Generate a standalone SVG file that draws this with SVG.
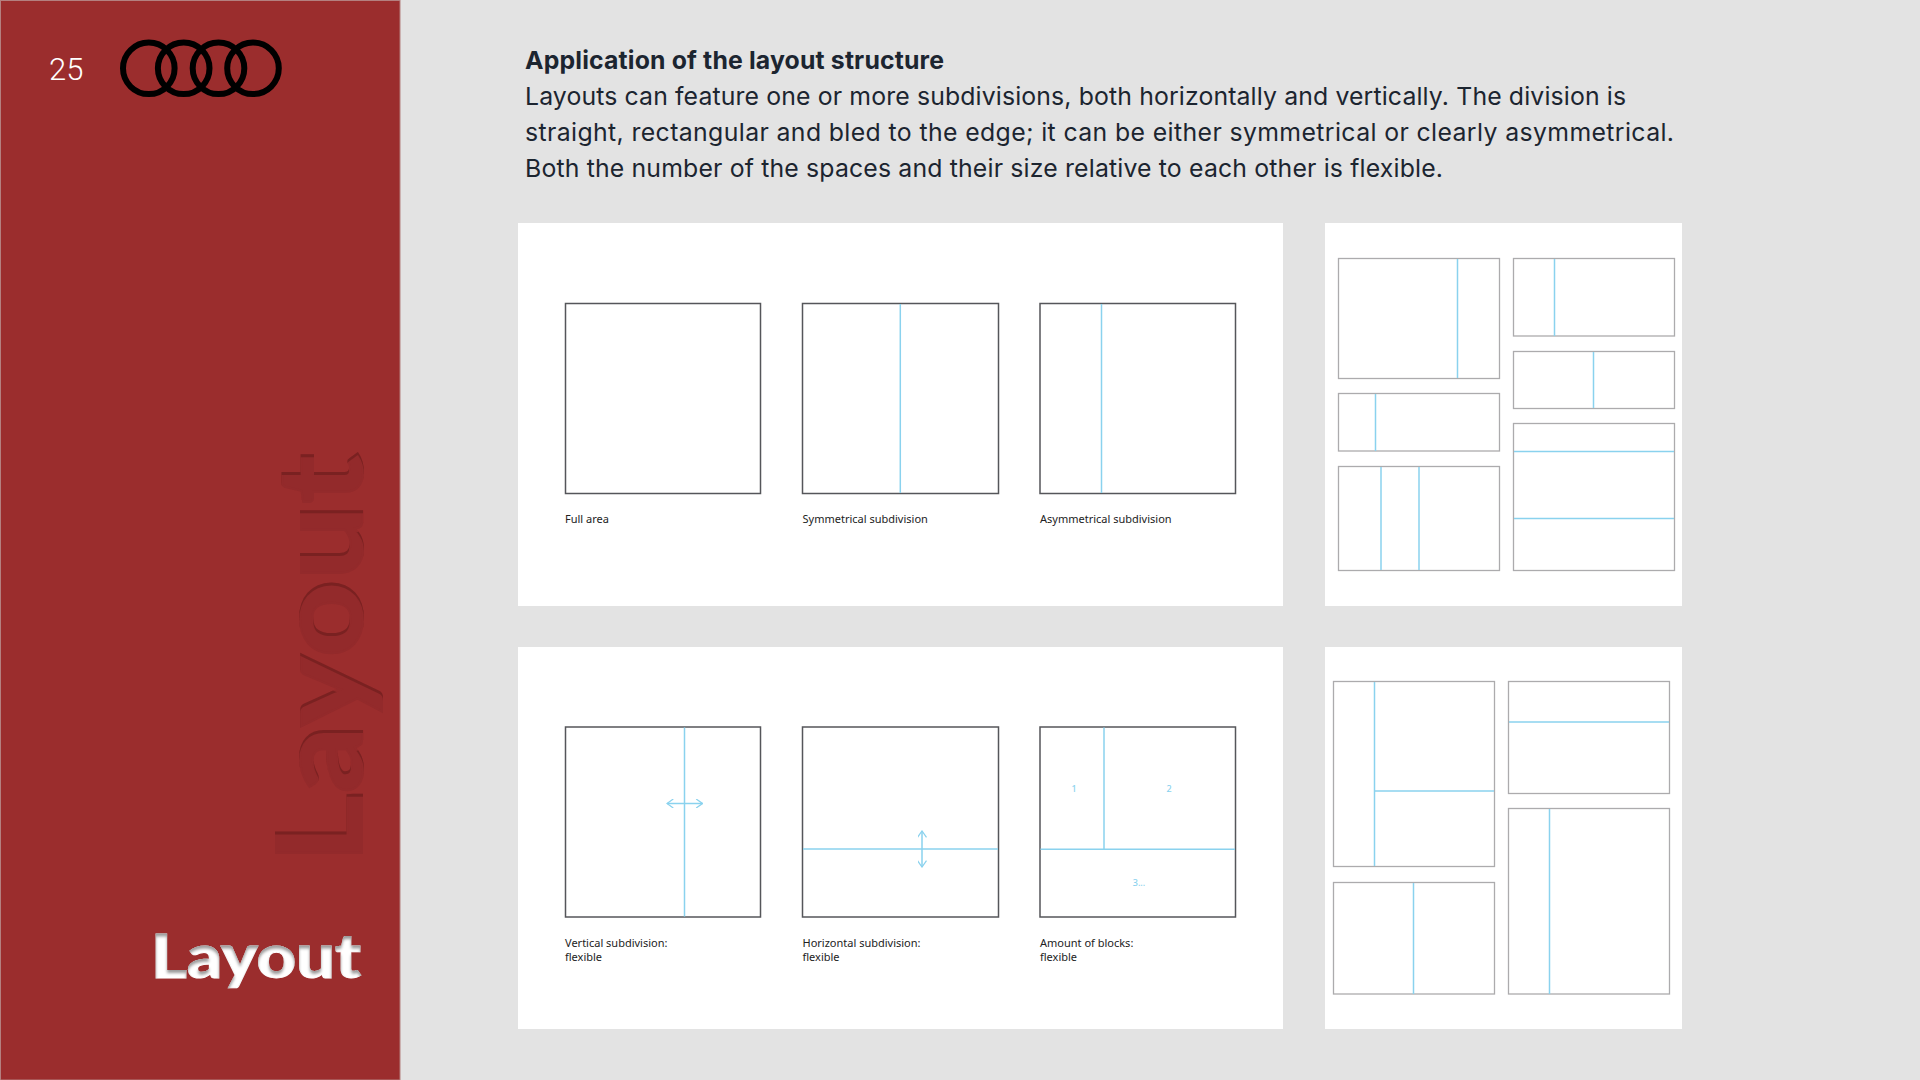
<svg xmlns="http://www.w3.org/2000/svg" width="1920" height="1080" viewBox="0 0 1920 1080">
<style>
.frame{fill:#fff;stroke:#55565a;stroke-width:1.5}
.thin{fill:#fff;stroke:#acabad;stroke-width:1.3}
.div{stroke:#8ad2ee;stroke-width:1.5;fill:none}
.cap{font:11px "Noto Sans",sans-serif;fill:#222}
.num{font:500 9px "Noto Sans",sans-serif;fill:#8ad2ee;text-anchor:middle}
.body{font:400 24.8px Inter,"Noto Sans",sans-serif;fill:#1c2530}
</style>
<defs>
<filter id="emb" x="-10%" y="-10%" width="120%" height="120%" color-interpolation-filters="sRGB">
<feOffset in="SourceAlpha" dy="3" result="o"/>
<feComposite in="SourceAlpha" in2="o" operator="out" result="edge"/>
<feFlood flood-color="#7a2121"/>
<feComposite in2="edge" operator="in" result="shade"/>
<feMerge><feMergeNode in="SourceGraphic"/><feMergeNode in="shade"/></feMerge>
</filter>
<filter id="inner" x="-10%" y="-10%" width="120%" height="120%" color-interpolation-filters="sRGB">
<feOffset in="SourceAlpha" dy="3" result="o"/>
<feGaussianBlur in="o" stdDeviation="1.6" result="b"/>
<feComposite in="SourceAlpha" in2="b" operator="out" result="edge"/>
<feFlood flood-color="#9a9a9a"/>
<feComposite in2="edge" operator="in" result="shade"/>
<feMerge><feMergeNode in="SourceGraphic"/><feMergeNode in="shade"/></feMerge>
</filter>
<marker id="ah" viewBox="0 0 10 10" refX="9" refY="5" markerWidth="9" markerHeight="9" markerUnits="userSpaceOnUse" orient="auto-start-reverse"><path d="M2 0 L9 5 L2 10" fill="none" stroke="#8ad2ee" stroke-width="1.4"/></marker>
</defs>
<rect width="1920" height="1080" fill="#e3e3e3"/>
<g id="sidebar">
<rect x="0.5" y="0.5" width="399.5" height="1079.5" fill="#9b2d2d" stroke="#b4807f" stroke-width="1"/>
<text x="49" y="80" font-family="Roboto,sans-serif" font-weight="300" font-size="31" fill="#fff">25</text>
<g fill="none" stroke="#000" stroke-width="6"><circle cx="148.8" cy="68.3" r="25.8"/><circle cx="183.7" cy="68.3" r="25.8"/><circle cx="218.5" cy="68.3" r="25.8"/><circle cx="253" cy="68.3" r="25.8"/></g>
<g filter="url(#emb)"><text transform="translate(361.5 863) rotate(-90)" font-family="Lato,sans-serif" font-weight="900" font-size="118" fill="#932a2b" stroke="#932a2b" stroke-width="2" textLength="410" lengthAdjust="spacingAndGlyphs">Layout</text></g>
<g filter="url(#inner)"><text x="151" y="978" font-family="Lato,sans-serif" font-weight="900" font-size="60" fill="#fff" stroke="#fff" stroke-width="1" textLength="210" lengthAdjust="spacingAndGlyphs">Layout</text></g>
</g>
<g id="intro">
<text x="525" y="69" class="body" style="font-weight:700" textLength="419">Application of the layout structure</text>
<text x="525" y="105" class="body" textLength="1101">Layouts can feature one or more subdivisions, both horizontally and vertically. The division is</text>
<text x="525" y="141" class="body" textLength="1149">straight, rectangular and bled to the edge; it can be either symmetrical or clearly asymmetrical.</text>
<text x="525" y="177" class="body" textLength="918">Both the number of the spaces and their size relative to each other is flexible.</text>
</g>
<g id="panels" fill="#fff">
<rect x="518" y="223" width="765" height="383"/>
<rect x="1325" y="223" width="357" height="383"/>
<rect x="518" y="647" width="765" height="382"/>
<rect x="1325" y="647" width="357" height="382"/>
</g>
<g id="full-area"><rect class="frame" x="565.5" y="303.5" width="195" height="190"/><text class="cap" x="565" y="523">Full area</text></g>
<g id="symmetrical"><rect class="frame" x="802.5" y="303.5" width="196" height="190"/><path class="div" d="M900.3 304V493"/><text class="cap" x="802.5" y="523">Symmetrical subdivision</text></g>
<g id="asymmetrical"><rect class="frame" x="1040" y="303.5" width="195.5" height="190"/><path class="div" d="M1101.5 304V493"/><text class="cap" x="1040" y="523">Asymmetrical subdivision</text></g>
<g id="vertical"><rect class="frame" x="565.5" y="727" width="195" height="190"/><path class="div" d="M684.5 727.5V916.5"/><path class="div" d="M667 803.5H702.5" marker-start="url(#ah)" marker-end="url(#ah)"/><text class="cap" x="565" y="947">Vertical subdivision:</text><text class="cap" x="565" y="961">flexible</text></g>
<g id="horizontal"><rect class="frame" x="802.5" y="727" width="196" height="190"/><path class="div" d="M803 849H998"/><path class="div" d="M922 831V867" marker-start="url(#ah)" marker-end="url(#ah)"/><text class="cap" x="802.5" y="947">Horizontal subdivision:</text><text class="cap" x="802.5" y="961">flexible</text></g>
<g id="blocks"><rect class="frame" x="1040" y="727" width="195.5" height="190"/><path class="div" d="M1104 727.5V849M1040.5 849.3H1235"/><text class="num" x="1074" y="792">1</text><text class="num" x="1169" y="792">2</text><text class="num" x="1139" y="886">3...</text><text class="cap" x="1040" y="947">Amount of blocks:</text><text class="cap" x="1040" y="961">flexible</text></g>
<g id="sample-a"><rect class="thin" x="1338.5" y="258.5" width="161" height="120"/><path class="div" d="M1457.5 259V378"/></g>
<g id="sample-b"><rect class="thin" x="1513.5" y="258.5" width="161" height="77.5"/><path class="div" d="M1554.5 259V336"/></g>
<g id="sample-c"><rect class="thin" x="1513.5" y="351.5" width="161" height="57"/><path class="div" d="M1593.5 352V408"/></g>
<g id="sample-d"><rect class="thin" x="1338.5" y="393.5" width="161" height="57.5"/><path class="div" d="M1375.5 394V451"/></g>
<g id="sample-e"><rect class="thin" x="1338.5" y="466.5" width="161" height="104"/><path class="div" d="M1381 467V570M1419 467V570"/></g>
<g id="sample-f"><rect class="thin" x="1513.5" y="423.5" width="161" height="147"/><path class="div" d="M1514 451.5H1674M1514 518.5H1674"/></g>
<g id="sample-g"><rect class="thin" x="1333.5" y="681.5" width="161" height="185"/><path class="div" d="M1374.5 682V866M1375 791H1494"/></g>
<g id="sample-h"><rect class="thin" x="1508.5" y="681.5" width="161" height="112"/><path class="div" d="M1509 722H1669"/></g>
<g id="sample-i"><rect class="thin" x="1333.5" y="882.5" width="161" height="111.5"/><path class="div" d="M1413.5 883V994"/></g>
<g id="sample-j"><rect class="thin" x="1508.5" y="808.5" width="161" height="185.5"/><path class="div" d="M1549.5 809V994"/></g>
</svg>
